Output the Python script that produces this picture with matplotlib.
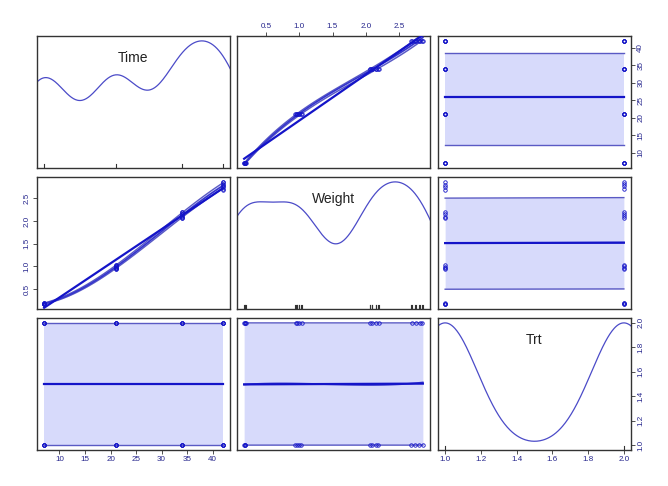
import numpy as np
import matplotlib.pyplot as plt

plt.rcParams['font.family'] = ['Liberation Sans', 'DejaVu Sans']

# data: 4 time points x 2 treatments x 4 reps
time = np.array([7] * 8 + [21] * 8 + [34] * 8 + [42] * 8)
trt = np.array([1, 1, 1, 1, 2, 2, 2, 2] * 4)
weight = np.array([0.17, 0.18, 0.19, 0.18, 0.18, 0.19, 0.20, 0.17,
                   0.94, 0.96, 0.99, 1.03, 0.95, 0.97, 1.00, 1.04,
                   2.06, 2.09, 2.15, 2.19, 2.07, 2.10, 2.16, 2.20,
                   2.68, 2.74, 2.80, 2.86, 2.70, 2.76, 2.82, 2.85])

names = ["Time", "Weight", "Trt"]
data = {"Time": time, "Weight": weight, "Trt": trt}
bandwidth = {"Time": 5.0, "Weight": 0.39, "Trt": 0.18}
ticks = {"Time": [10, 15, 20, 25, 30, 35, 40],
         "Weight": [0.5, 1.0, 1.5, 2.0, 2.5],
         "Trt": [1.0, 1.2, 1.4, 1.6, 1.8, 2.0]}
ticklabels = {"Time": ["10", "15", "20", "25", "30", "35", "40"],
              "Weight": ["0.5", "1.0", "1.5", "2.0", "2.5"],
              "Trt": ["1.0", "1.2", "1.4", "1.6", "1.8", "2.0"]}

BLUE = "#1414c8"
NAVY = "#24248c"
FILL = "#d7dafb"
EDGE = "#5a5ac4"


def smooth(x, y, xs):
    # group means for a two-level x, otherwise a cubic fit
    ux = np.unique(x)
    if len(ux) <= 2:
        means = [y[x == u].mean() for u in ux]
        return np.interp(xs, ux, means)
    return np.polyval(np.polyfit(x, y, 3), xs)


def lims(v):
    r = v.max() - v.min()
    return v.min() - 0.04 * r, v.max() + 0.04 * r


W, H = 668, 486
lefts = [37, 237, 438]
tops = [36, 177, 318]
pw, ph = 193, 132

fig = plt.figure(figsize=(W / 100, H / 100), dpi=100)

for i, yname in enumerate(names):
    for j, xname in enumerate(names):
        ax = fig.add_axes([lefts[j] / W, 1 - (tops[i] + ph) / H, pw / W, ph / H])
        x = data[xname].astype(float)
        y = data[yname].astype(float)
        ax.set_xlim(lims(x))
        ax.set_ylim(lims(y))
        for s in ax.spines.values():
            s.set_color("#333333")
            s.set_linewidth(1.0)
        ax.tick_params(bottom=False, left=False, labelbottom=False, labelleft=False)

        if i == j:
            h = bandwidth[xname]
            grid = np.linspace(x.min() - 3 * h, x.max() + 3 * h, 512)
            dens = np.exp(-0.5 * ((grid[:, None] - x[None, :]) / h) ** 2).sum(axis=1)
            scaled = x.min() + (dens - dens.min()) / (dens.max() - dens.min()) * (x.max() - x.min())
            ax.plot(grid, scaled, color="#4b4bc8", lw=0.9)
            for v in np.unique(x):
                ax.plot([v, v], [0, 0.03], color="#333333", lw=0.8,
                        transform=ax.get_xaxis_transform())
            ax.text(0.5, 0.83, xname, transform=ax.transAxes, ha="center", va="center",
                    fontsize=10, color="#222222")
        else:
            xs = np.linspace(x.min(), x.max(), 80)
            fit = smooth(x, y, xs)
            res = y - smooth(x, y, x)
            pos = res > 0
            neg = res < 0
            up = fit + np.sqrt(np.clip(smooth(x[pos], res[pos] ** 2, xs), 0, None))
            lo = fit - np.sqrt(np.clip(smooth(x[neg], res[neg] ** 2, xs), 0, None))
            ax.fill_between(xs, lo, up, color=FILL, lw=0, zorder=1)
            ax.plot(xs, up, color=EDGE, lw=1.0, zorder=2)
            ax.plot(xs, lo, color=EDGE, lw=1.0, zorder=2)
            ax.plot(xs, fit, color="#3434cc", lw=1.2, zorder=3)
            b, a = np.polyfit(x, y, 1)
            xr = np.array([x.min(), x.max()])
            ax.plot(xr, a + b * xr, color=BLUE, lw=1.6, zorder=4)
            ax.plot(x, y, "o", ms=2.5, mfc="none", mec=BLUE, mew=0.6, zorder=5)

        # axes on alternating sides, like R pairs
        if i == 2 and j in (0, 2):
            ax.set_xticks(ticks[xname], ticklabels[xname])
            ax.tick_params(bottom=True, labelbottom=True)
        if i == 0 and j == 1:
            ax.set_xticks(ticks[xname], ticklabels[xname])
            ax.tick_params(top=True, labeltop=True)
        if j == 2 and i in (0, 2):
            ax.set_yticks(ticks[yname], ticklabels[yname])
            ax.tick_params(right=True, labelright=True)
            for lab in ax.get_yticklabels():
                lab.set_rotation(90)
                lab.set_va("center")
        if j == 0 and i == 1:
            ax.set_yticks(ticks[yname], ticklabels[yname])
            ax.tick_params(left=True, labelleft=True)
            for lab in ax.get_yticklabels():
                lab.set_rotation(90)
                lab.set_va("center")
        ax.tick_params(length=3, width=0.6, color="#333333", labelsize=5.8,
                       labelcolor=NAVY, pad=1.5)

fig.savefig("out.png", dpi=100)
